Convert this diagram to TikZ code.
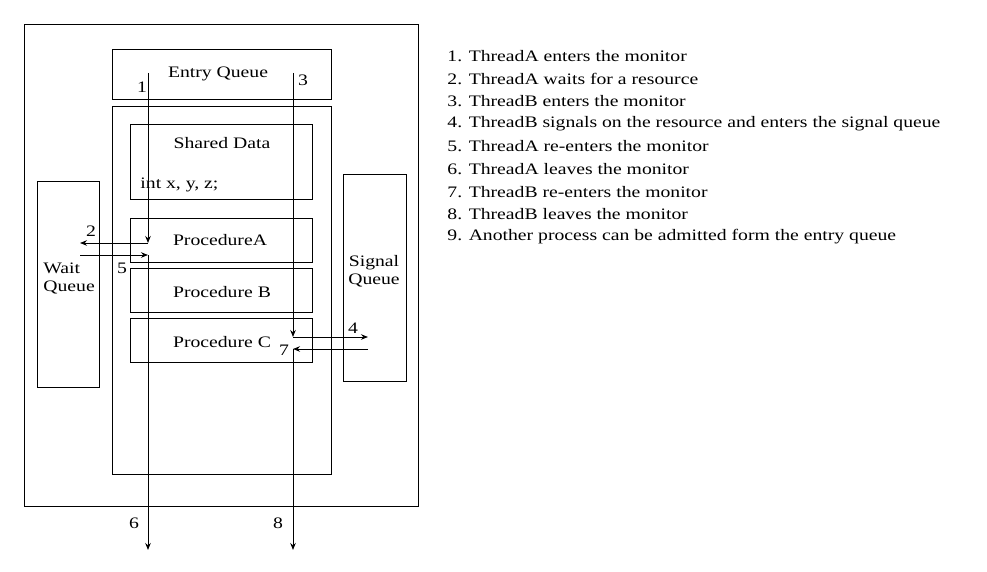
\documentclass[tikz,border=0pt]{standalone}
\usepackage{fontspec}
\setmainfont{Liberation Serif}[FakeStretch=1.23]
\usetikzlibrary{positioning,arrows.meta}
\tikzset{every picture/.style={line width=0.9pt}}

\begin{document}
\begin{tikzpicture}[x=1pt, y=-1pt, font=\fontsize{16}{18}\selectfont,
    box/.style={draw, rectangle, anchor=north west, inner sep=0pt},
    flow/.style={-{Stealth[length=7pt,width=5.5pt]}},
    num/.style={inner sep=0pt}]
    \useasboundingbox (0,0) rectangle (987,572);

    % Monitor boxes
    \node[box, line width=1.2pt, minimum width=394pt, minimum height=482pt] (outer) at (24,24) {};
    \node[box, minimum width=219pt, minimum height=50pt] (entry) at (112,49) {};
    \node at (218,74) (entrytext) {Entry Queue};
    \node[box, minimum width=219pt, minimum height=368pt] (monitor) at (112,106) {};
    \node[box, minimum width=182pt, minimum height=75pt] (shared) at (130,124) {};
    \node at (222,143) (sharedtext) {Shared Data};
    \node[anchor=west, inner sep=0pt] at (140,185) (vars) {int x, y, z;};
    \node[box, minimum width=182pt, minimum height=44pt] (procA) at (130,218) {};
    \node at (220,240) (procAtext) {ProcedureA};
    \node[box, minimum width=182pt, minimum height=44pt] (procB) at (130,268) {};
    \node at (222,292) (procBtext) {Procedure B};
    \node[box, minimum width=182pt, minimum height=44pt] (procC) at (130,318) {};
    \node at (222,342) (procCtext) {Procedure C};

    % Queues
    \node[box, minimum width=62pt, minimum height=206pt] (wait) at (37,181) {};
    \node[align=left, anchor=west, inner sep=0pt] at (43,278) (waittext) {Wait\\Queue};
    \node[box, minimum width=63pt, minimum height=207pt] (signal) at (343,174) {};
    \node[align=center, inner sep=0pt] at (374,271) (signaltext) {Signal\\Queue};

    % Path points
    \coordinate (a1) at (148,73);
    \coordinate (a2) at (148,243);
    \coordinate (a3) at (80,243);
    \coordinate (b1) at (80,255);
    \coordinate (b2) at (148,255);
    \coordinate (b3) at (148,550);
    \coordinate (c1) at (293,73);
    \coordinate (c2) at (293,337);
    \coordinate (c3) at (368,337);
    \coordinate (d1) at (368,349);
    \coordinate (d2) at (293,349);
    \coordinate (d3) at (293,550);

    % Connections
    \draw[flow] (a1) -- (a2);
    \draw[flow] (a2) -- (a3);
    \draw[flow] (b1) -- (b2);
    \draw[flow] (b2) -- (b3);
    \draw[flow] (c1) -- (c2);
    \draw[flow] (c2) -- (c3);
    \draw[flow] (d1) -- (d2);
    \draw[flow] (d2) -- (d3);

    % Step numbers
    \node[num] at (142,87) (n1) {1};
    \node[num] at (91,231) (n2) {2};
    \node[num] at (303,80) (n3) {3};
    \node[num] at (353,328) (n4) {4};
    \node[num] at (122,268) (n5) {5};
    \node[num] at (134,523) (n6) {6};
    \node[num] at (284,350) (n7) {7};
    \node[num] at (278,523) (n8) {8};

    % Legend
    \foreach \txt [count=\i] in {{ThreadA enters the monitor},
        {ThreadA waits for a resource},
        {ThreadB enters the monitor},
        {ThreadB signals on the resource and enters the signal queue},
        {ThreadA re-enters the monitor},
        {ThreadA leaves the monitor},
        {ThreadB re-enters the monitor},
        {ThreadB leaves the monitor},
        {Another process can be admitted form the entry queue}}
        \node[anchor=west, inner sep=0pt] (item\i) at (447,{56+22.6*(\i-1)}) {\i. \txt};
\end{tikzpicture}
\end{document}
